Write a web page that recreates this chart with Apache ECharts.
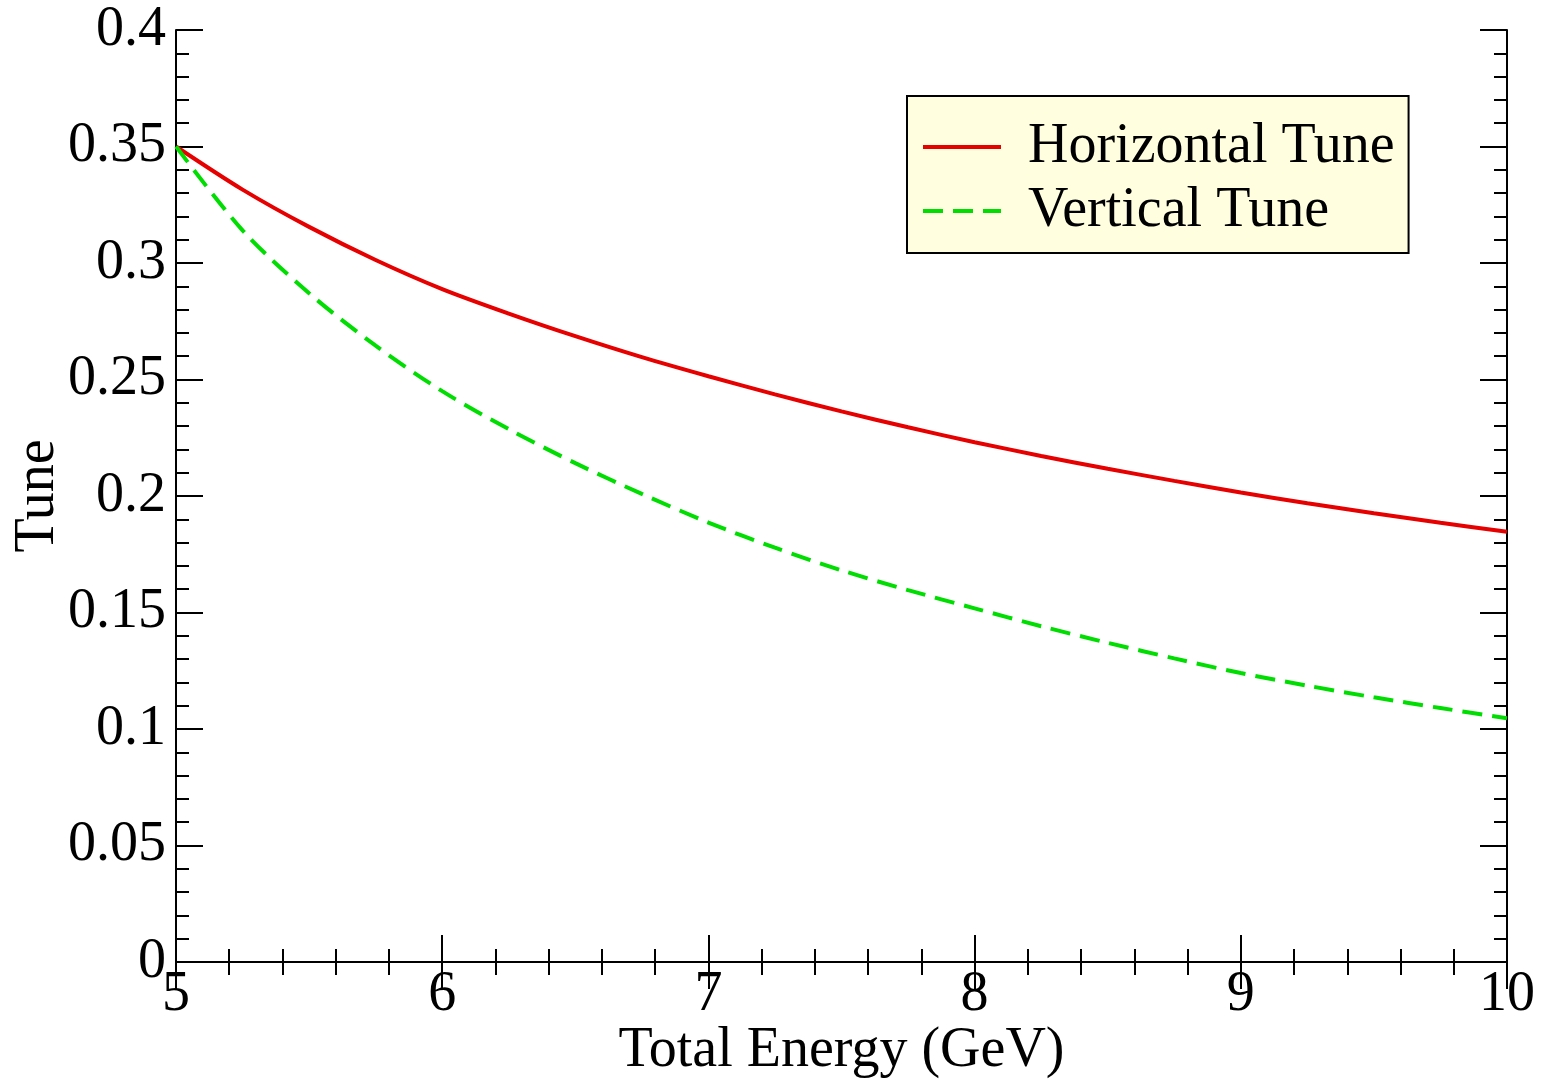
<!DOCTYPE html>
<html>
<head>
<meta charset="utf-8">
<script src="https://cdn.jsdelivr.net/npm/echarts@6/dist/echarts.min.js"></script>
<style>
html,body{margin:0;padding:0;background:#fff;}
#chart{width:1545px;height:1084px;}
</style>
</head>
<body>
<div id="chart"></div>
<script>
const energy = [5.00,5.25,5.50,5.75,6.00,6.25,6.50,6.75,7.00,7.25,7.50,7.75,8.00,8.25,8.50,8.75,9.00,9.25,9.50,9.75,10.00];
const horizontalTune = [0.3500,0.3315,0.3155,0.3013,0.2888,0.2783,0.2686,0.2596,0.2514,0.2436,0.2363,0.2295,0.2231,0.2172,0.2117,0.2065,0.2015,0.1969,0.1926,0.1885,0.1847];
const verticalTune = [0.3500,0.3140,0.2870,0.2645,0.2450,0.2287,0.2141,0.2009,0.1886,0.1778,0.1681,0.1596,0.1518,0.1441,0.1370,0.1303,0.1240,0.1186,0.1136,0.1090,0.1046];
const seriesNames = ['Horizontal Tune','Vertical Tune'];
const xTitle = 'Total Energy (GeV)';
const yTitle = 'Tune';

const FONT = "'Liberation Serif','Times New Roman',serif";
const FS = 56;
const chart = echarts.init(document.getElementById('chart'), null, {renderer:'canvas'});

function axisCommon(showLabel){
  return {
    axisLine:{show:true,lineStyle:{color:'#000',width:2}},
    axisTick:{show:true,inside:true,length:27,lineStyle:{color:'#000',width:2}},
    minorTick:{show:true,splitNumber:5,length:13,lineStyle:{color:'#000',width:2}},
    splitLine:{show:false},
    minorSplitLine:{show:false},
    axisLabel:{show:showLabel,color:'#000',fontFamily:FONT,fontSize:FS}
  };
}

const xBottom = Object.assign(axisCommon(true),{
  type:'value',position:'bottom',min:5,max:10,interval:1,
  name:xTitle,nameLocation:'middle',nameGap:61,nameMoveOverlap:false,
  nameTextStyle:{color:'#000',fontFamily:FONT,fontSize:FS}
});
xBottom.axisLabel.margin = 5;
const xTop = Object.assign(axisCommon(false),{type:'value',position:'top',min:5,max:10,interval:1});
const yLeft = Object.assign(axisCommon(true),{
  type:'value',position:'left',min:0,max:0.4,interval:0.05,
  name:yTitle,nameLocation:'middle',nameGap:110,nameRotate:90,nameMoveOverlap:false,
  nameTextStyle:{color:'#000',fontFamily:FONT,fontSize:FS}
});
yLeft.axisLabel.margin = 10;
yLeft.axisLabel.padding = [4,0,0,0];
yLeft.axisLabel.formatter = v => String(+v.toFixed(3));
const yRight = Object.assign(axisCommon(false),{type:'value',position:'right',min:0,max:0.4,interval:0.05});

chart.setOption({
  animation:false,
  backgroundColor:'#fff',
  grid:{left:176,right:38,top:30,bottom:122,containLabel:false,outerBoundsMode:'none'},
  legend:{
    orient:'vertical',left:907,top:96,
    data:seriesNames,
    backgroundColor:'#ffffe0',borderColor:'#000',borderWidth:2,
    padding:[23,14,14,14],
    itemWidth:78,itemHeight:14,itemGap:8,
    itemStyle:{opacity:0},
    lineStyle:{width:4},
    textStyle:{color:'#000',fontFamily:FONT,fontSize:FS,lineHeight:56,padding:[0,0,0,22]}
  },
  xAxis:[xBottom,xTop],
  yAxis:[yLeft,yRight],
  series:[
    {name:seriesNames[0],type:'line',xAxisIndex:0,yAxisIndex:0,showSymbol:false,symbol:'none',smooth:0.3,
     data:energy.map((e,i)=>[e,horizontalTune[i]]),
     lineStyle:{color:'#e60000',width:4},itemStyle:{color:'#e60000'}},
    {name:seriesNames[1],type:'line',xAxisIndex:0,yAxisIndex:0,showSymbol:false,symbol:'none',smooth:0.3,
     data:energy.map((e,i)=>[e,verticalTune[i]]),
     lineStyle:{color:'#00dd00',width:4,type:[20,10]},itemStyle:{color:'#00dd00'}}
  ]
});
</script>
</body>
</html>
